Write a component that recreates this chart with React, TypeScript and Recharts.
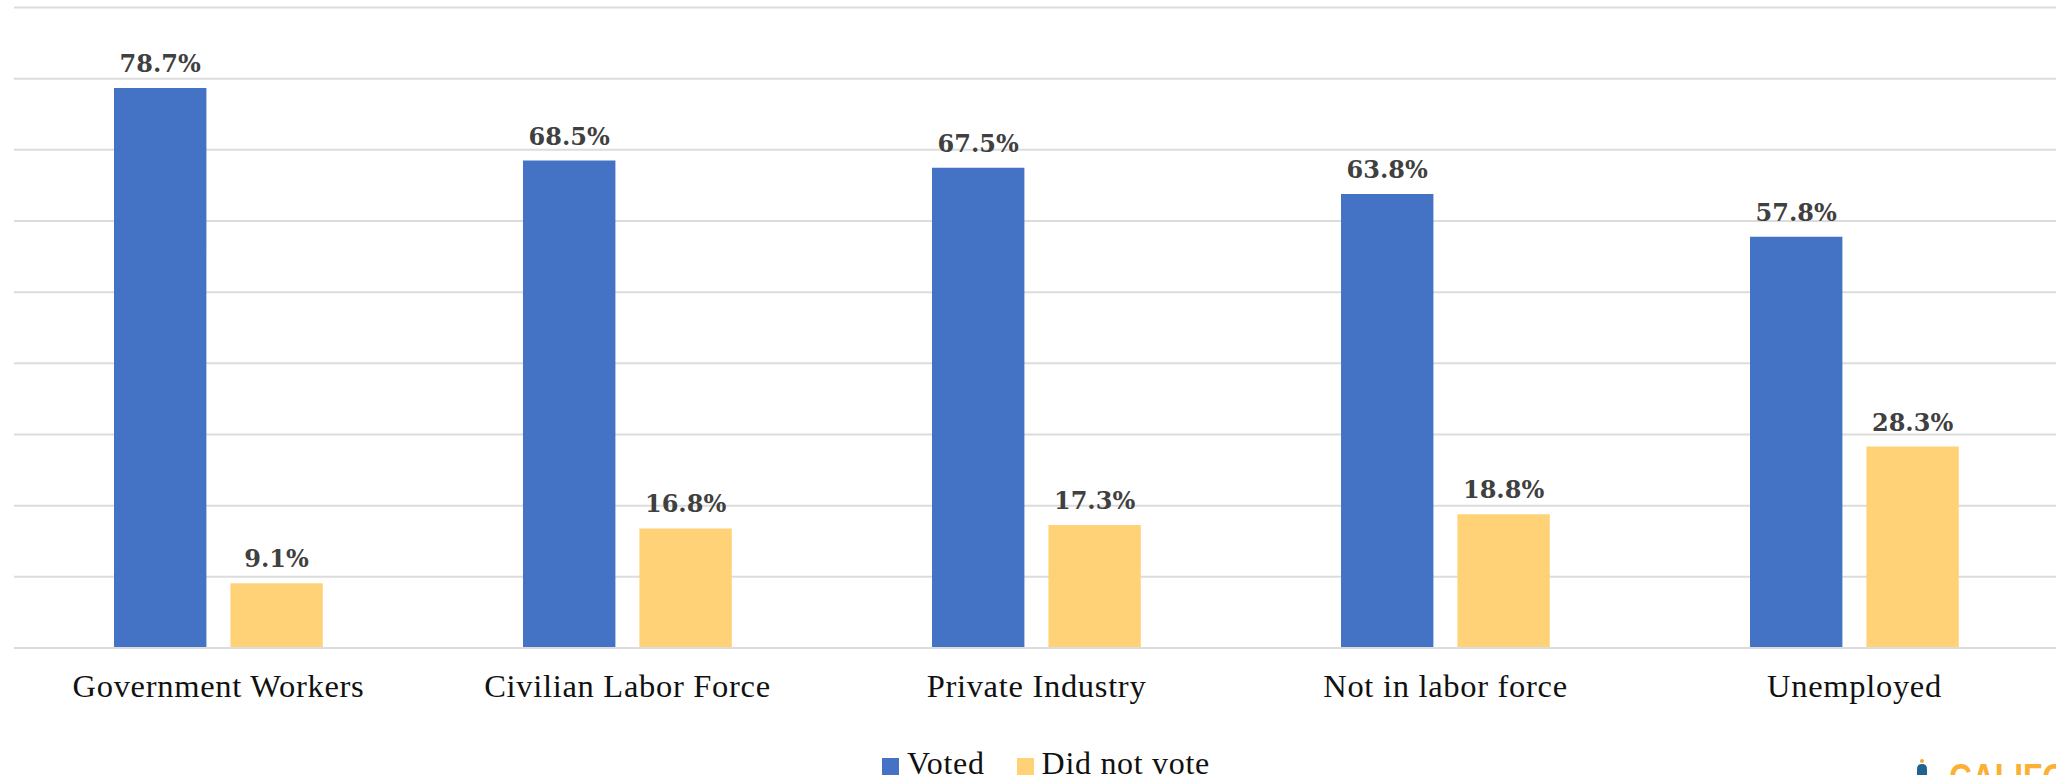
import React from 'react'
import { BarChart, Bar, XAxis, YAxis, CartesianGrid, Legend, LabelList } from 'recharts'

const categories = ['Government Workers', 'Civilian Labor Force', 'Private Industry', 'Not in labor force', 'Unemployed']
const voted = [78.7, 68.5, 67.5, 63.8, 57.8]
const didNotVote = [9.1, 16.8, 17.3, 18.8, 28.3]
const yTicks = [0, 10, 20, 30, 40, 50, 60, 70, 80, 90]

const data = categories.map((name, i) => ({ name, voted: voted[i], didNotVote: didNotVote[i] }))

const bodyFont = '"Liberation Serif", serif'
const labelFont = '"DejaVu Serif", serif'
const formatPct = (v: any) => `${Number(v).toFixed(1)}%`

const valueLabel = {
  position: 'top' as const,
  formatter: formatPct,
  fill: '#404040',
  fontFamily: labelFont,
  fontWeight: 700,
  fontSize: 24,
  offset: 16,
}

// swatch + name row, kept in series order
const LegendRow = ({ payload }: any) => (
  <div style={{ display: 'flex', alignItems: 'flex-end', height: 30, color: '#111', fontFamily: bodyFont, fontSize: 32, letterSpacing: 0.7, lineHeight: '30px' }}>
    {(payload || []).map((item: any) => (
      <span key={item.value} style={{ display: 'flex', alignItems: 'flex-end', marginRight: 32 }}>
        <span style={{ width: 17, height: 17, background: item.color, marginRight: 8, marginBottom: 3 }} />
        {item.value}
      </span>
    ))}
  </div>
)

export default function App() {
  return (
    <div style={{ position: 'absolute', left: 0, top: 0, width: 2056, height: 775, overflow: 'hidden', background: '#fff' }}>
      <BarChart
        width={2059}
        height={775}
        data={data}
        margin={{ top: 7.5, right: 0, left: 14, bottom: 67 }}
        barSize={92.4}
        barGap={24}
      >
        <CartesianGrid vertical={false} stroke='#dcdcdc' strokeWidth={2} />
        <XAxis
          dataKey='name'
          axisLine={{ stroke: '#dcdcdc', strokeWidth: 2 }}
          tickLine={false}
          tickMargin={20}
          tick={{ fill: '#111', fontFamily: bodyFont, fontSize: 32.5, letterSpacing: 0.7 }}
          interval={0}
        />
        <YAxis hide domain={[0, 90]} ticks={yTicks} />
        <Legend
          verticalAlign='bottom'
          content={<LegendRow />}
          itemSorter={null}
          wrapperStyle={{ position: 'absolute', left: 882, width: 600, top: 748, bottom: 'auto' }}
        />
        <Bar dataKey='voted' name='Voted' fill='#4472c4' isAnimationActive={false}>
          <LabelList dataKey='voted' {...valueLabel} />
        </Bar>
        <Bar dataKey='didNotVote' name='Did not vote' fill='#ffd278' isAnimationActive={false}>
          <LabelList dataKey='didNotVote' {...valueLabel} />
        </Bar>
      </BarChart>
      {/* site logo, cropped by the lower right corner */}
      <svg width={170} height={32} style={{ position: 'absolute', left: 1886, top: 743 }}>
        <circle cx={36} cy={18} r={2} fill='#f0a830' />
        <path d='M31 32 V26 Q31 21 36 21 Q41 21 41 26 V32 Z' fill='#1f6391' />
        <text x={63} y={48} fill='#fbb034' fontFamily='"Liberation Sans", sans-serif' fontWeight={700} fontSize={38} textLength={118} lengthAdjust='spacingAndGlyphs'>CALIFO</text>
      </svg>
    </div>
  )
}
